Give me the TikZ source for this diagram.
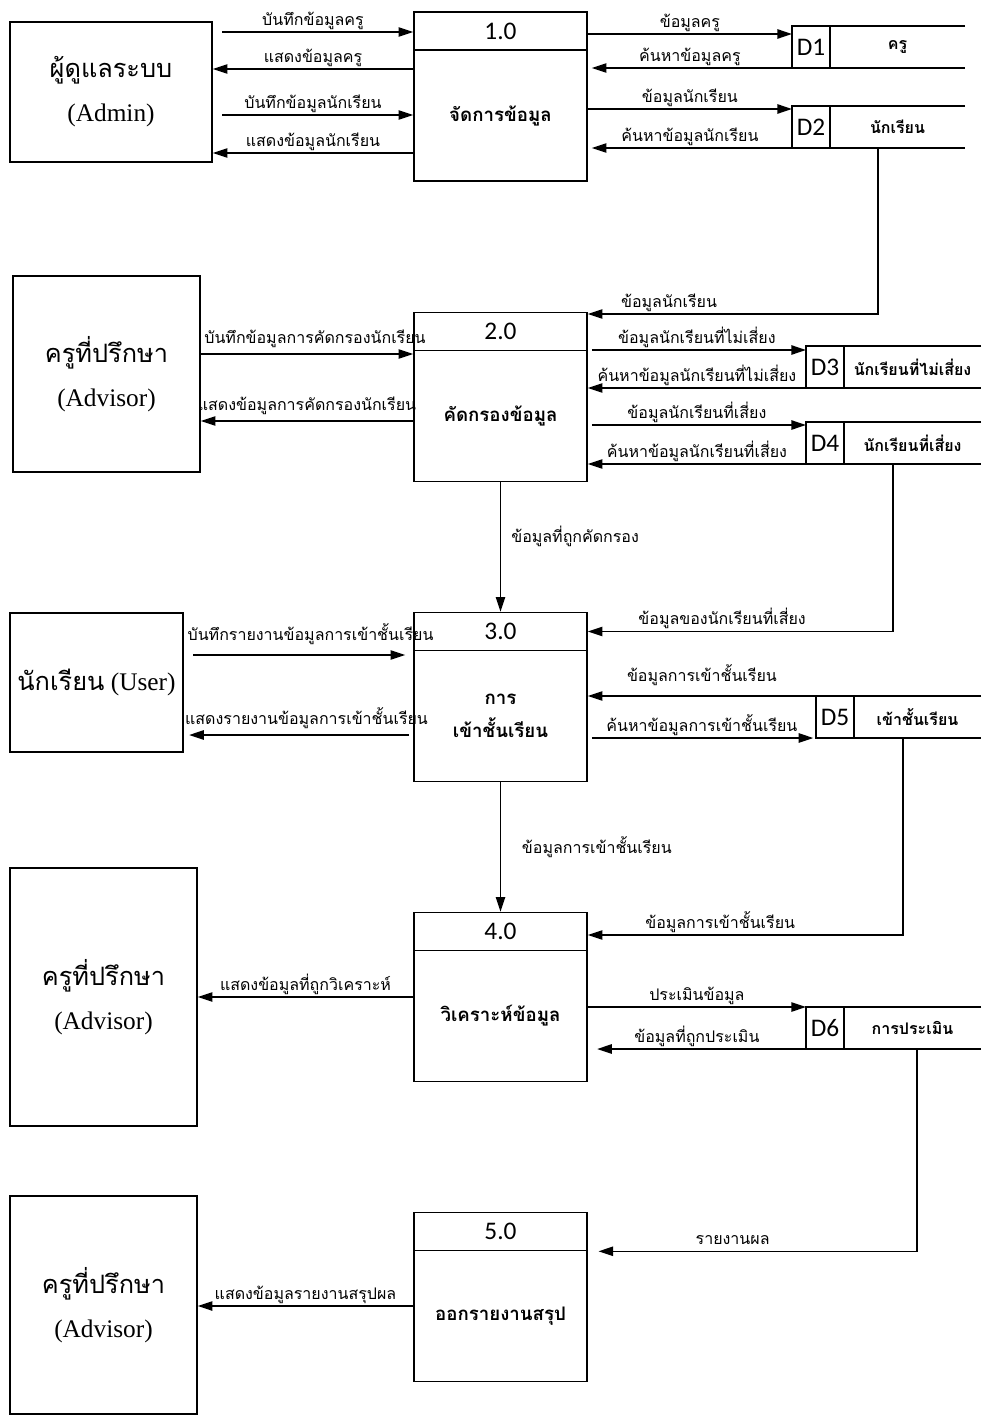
\documentclass[tikz,border=0pt]{standalone}
\usepackage{fontspec}
\setmainfont{Liberation Serif}
\newfontfamily\thaifont[Script=Thai]{Loma}
\newfontfamily\numfont{Carlito}
\usetikzlibrary{arrows.meta, positioning}
\tikzset{
  every picture/.style={line width=1.2pt},
  ent/.style={draw, align=center, inner sep=0pt, font=\fontsize{19}{33}\selectfont},
  prochead/.style={draw, minimum width=129.75pt, minimum height=28.5pt, inner sep=0pt, font=\numfont\fontsize{19}{20}\selectfont},
  procbody/.style={draw, minimum width=129.75pt, minimum height=98.25pt, inner sep=0pt, align=center, font=\thaifont\bfseries\fontsize{14}{25}\selectfont},
  sid/.style={minimum width=28.5pt, minimum height=31.5pt, inner sep=0pt, outer sep=0pt, font=\numfont\fontsize{19}{20}\selectfont},
  sname/.style={minimum height=31.5pt, inner sep=0pt, outer sep=0pt, font=\thaifont\bfseries\fontsize{12}{14}\selectfont},
  flow/.style={-{Triangle[length=11pt, width=7pt]}},
  lbl/.style={font=\thaifont\fontsize{12}{14}\selectfont, inner sep=1.5pt},
}

\begin{document}
\begin{tikzpicture}[x=0.75pt, y=-0.75pt]
  \path[use as bounding box, fill=white] (0,0) rectangle (981,1416);
  % \dstore{name}{id}{label}{left x}{top y}{right x}
  \newcommand{\dstore}[6]{%
    \node[sid, anchor=north west] (#1) at (#4,#5) {#2};
    \node[sname, anchor=north west, minimum width={(#6-#4-38)*0.75pt}] (#1n) at (#1.north east) {#3};
    \draw (#1n.north east) -- (#1.north west) -- (#1.south west) -- (#1n.south east);
    \draw (#1.north east) -- (#1.south east);}

  % external entities
  \node[ent, minimum width=151.5pt, minimum height=105pt] (e1) at (111,92) {{\thaifont ผู้ดูแลระบบ}\\(Admin)};
  \node[ent, minimum width=140.25pt, minimum height=147pt] (e2) at (106.5,374) {{\thaifont ครูที่ปรึกษา}\\(Advisor)};
  \node[ent, minimum width=129.75pt, minimum height=104.25pt] (e3) at (96.5,682.5) {{\thaifont นักเรียน} (User)};
  \node[ent, minimum width=140.25pt, minimum height=193.5pt] (e4) at (103.5,997) {{\thaifont ครูที่ปรึกษา}\\(Advisor)};
  \node[ent, minimum width=140.25pt, minimum height=163.5pt] (e5) at (103.5,1305) {{\thaifont ครูที่ปรึกษา}\\(Advisor)};

  % processes
  \node[prochead] (p1h) at (500.5,31) {1.0};
  \node[procbody, below=-1.2pt of p1h] (p1) {จัดการข้อมูล};
  \node[prochead] (p2h) at (500.5,331.5) {2.0};
  \node[procbody, below=-1.2pt of p2h] (p2) {คัดกรองข้อมูล};
  \node[prochead] (p3h) at (500.5,631.5) {3.0};
  \node[procbody, below=-1.2pt of p3h] (p3) {การ\\เข้าชั้นเรียน};
  \node[prochead] (p4h) at (500.5,931.5) {4.0};
  \node[procbody, below=-1.2pt of p4h] (p4) {วิเคราะห์ข้อมูล};
  \node[prochead] (p5h) at (500.5,1231.5) {5.0};
  \node[procbody, below=-1.2pt of p5h] (p5) {ออกรายงานสรุป};

  % data stores
  \dstore{d1}{D1}{ครู}{792}{26}{965}
  \dstore{d2}{D2}{นักเรียน}{792}{106}{965}
  \dstore{d3}{D3}{นักเรียนที่ไม่เสี่ยง}{806}{346}{981}
  \dstore{d4}{D4}{นักเรียนที่เสี่ยง}{806}{422}{981}
  \dstore{d5}{D5}{เข้าชั้นเรียน}{816}{696}{981}
  \dstore{d6}{D6}{การประเมิน}{806}{1007}{981}

  % 1.0
  \draw[flow, shorten <=7pt] (e1.east |- 0,32) -- node[lbl, above] {บันทึกข้อมูลครู} (p1.west |- 0,32);
  \draw[flow] (p1.west |- 0,69) -- node[lbl, above] {แสดงข้อมูลครู} (e1.east |- 0,69);
  \draw[flow, shorten <=7pt] (e1.east |- 0,115) -- node[lbl, above] {บันทึกข้อมูลนักเรียน} (p1.west |- 0,115);
  \draw[flow] (p1.west |- 0,153) -- node[lbl, above] {แสดงข้อมูลนักเรียน} (e1.east |- 0,153);
  \draw[flow] (p1.east |- 0,34) -- node[lbl, above] {ข้อมูลครู} (d1.west |- 0,34);
  \draw[flow, shorten >=3pt] (d1.south west) -- node[lbl, above] {ค้นหาข้อมูลครู} (p1.east |- d1.south west);
  \draw[flow] (p1.east |- 0,109) -- node[lbl, above] {ข้อมูลนักเรียน} (d2.west |- 0,109);
  \draw[flow, shorten >=3pt] (d2.south west) -- node[lbl, above] {ค้นหาข้อมูลนักเรียน} (p1.east |- d2.south west);
  \draw[flow] (d2n.south -| 878,0) |- node[lbl, above, pos=0.86] {ข้อมูลนักเรียน} (p2h.east |- 0,314);

  % 2.0
  \draw[flow] (e2.east |- 0,354) -- node[lbl, above=3pt, xshift=6pt] {บันทึกข้อมูลการคัดกรองนักเรียน} (p2.west |- 0,354);
  \draw[flow] (p2.west |- 0,421) -- node[lbl, above=3pt] {แสดงข้อมูลการคัดกรองนักเรียน} (e2.east |- 0,421);
  \draw[flow, shorten <=3pt] (p2.east |- 0,350) -- node[lbl, above] {ข้อมูลนักเรียนที่ไม่เสี่ยง} (d3.west |- 0,350);
  \draw[flow] (d3.south west) -- node[lbl, above] {ค้นหาข้อมูลนักเรียนที่ไม่เสี่ยง} (p2.east |- d3.south west);
  \draw[flow, shorten <=3pt] (p2.east |- 0,425) -- node[lbl, above] {ข้อมูลนักเรียนที่เสี่ยง} (d4.west |- 0,425);
  \draw[flow] (d4.south west) -- node[lbl, above] {ค้นหาข้อมูลนักเรียนที่เสี่ยง} (p2.east |- d4.south west);
  \draw[flow] (d4n.south -| 893,0) |- node[lbl, above, pos=0.78] {ข้อมูลของนักเรียนที่เสี่ยง} (p3h.east);
  \draw[flow] (p2.south) -- node[lbl, right=6pt, yshift=8pt] {ข้อมูลที่ถูกคัดกรอง} (p3h.north);

  % 3.0
  \draw[flow, shorten <=7pt, shorten >=6pt] (e3.east |- 0,655) -- node[lbl, above=6pt, xshift=9pt] {บันทึกรายงานข้อมูลการเข้าชั้นเรียน} (p3.west |- 0,655);
  \draw[flow, shorten <=3pt, shorten >=4pt] (p3.west |- 0,735) -- node[lbl, above=3pt, xshift=6pt] {แสดงรายงานข้อมูลการเข้าชั้นเรียน} (e3.east |- 0,735);
  \draw[flow] (d5.north west) -- node[lbl, above=6pt] {ข้อมูลการเข้าชั้นเรียน} (p3.east |- d5.north west);
  \draw[flow, shorten <=3pt, shorten >=2pt] (p3.east |- d5.south west) -- node[lbl, above] {ค้นหาข้อมูลการเข้าชั้นเรียน} (d5.south west);
  \draw[flow] (d5n.south -| 903,0) |- node[lbl, above, pos=0.79] {ข้อมูลการเข้าชั้นเรียน} (p4h.east |- 0,935);
  \draw[flow] (p3.south) -- node[lbl, right=14pt] {ข้อมูลการเข้าชั้นเรียน} (p4h.north);

  % 4.0
  \draw[flow] (p4.west |- 0,997) -- node[lbl, above] {แสดงข้อมูลที่ถูกวิเคราะห์} (e4.east |- 0,997);
  \draw[flow] (p4.east |- d6.north west) -- node[lbl, above] {ประเมินข้อมูล} (d6.north west);
  \draw[flow, shorten >=7pt] (d6.south west) -- node[lbl, above] {ข้อมูลที่ถูกประเมิน} (p4.east |- d6.south west);
  \draw[flow, shorten >=8pt] (d6n.south -| 917,0) |- node[lbl, above=3pt, pos=0.78] {รายงานผล} (p5h.south east);

  % 5.0
  \draw[flow] (p5.west |- 0,1306) -- node[lbl, above] {แสดงข้อมูลรายงานสรุปผล} (e5.east |- 0,1306);
\end{tikzpicture}
\end{document}
